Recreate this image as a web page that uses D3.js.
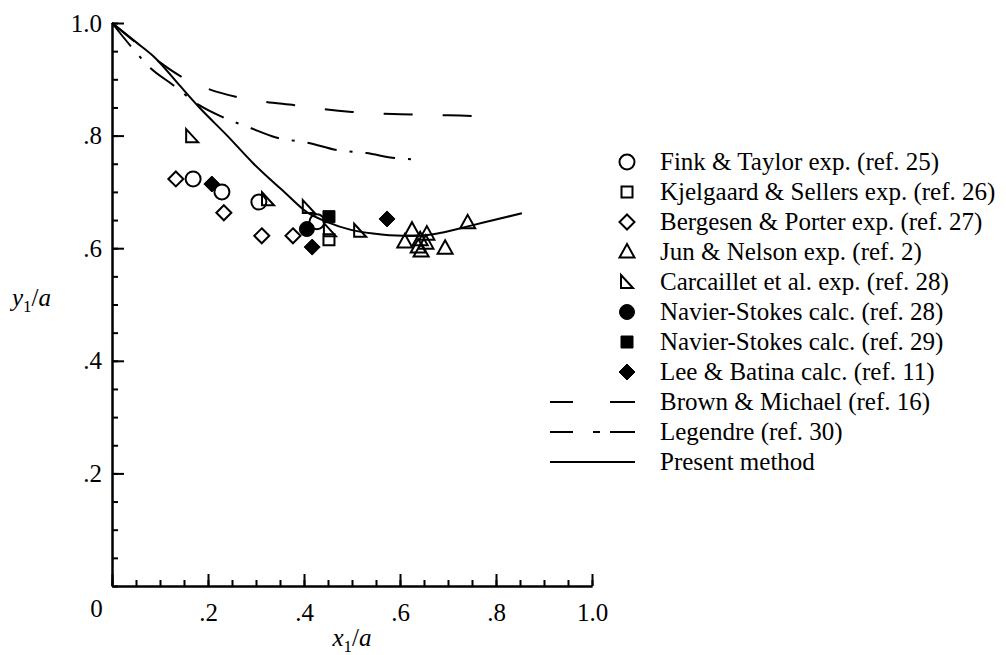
<!DOCTYPE html>
<html>
<head>
<meta charset="utf-8">
<script src="https://cdn.jsdelivr.net/npm/d3@7"></script>
<style>
  body { margin: 0; background: #fff; }
</style>
</head>
<body>
<svg id="chart" width="1006" height="655"></svg>
<script>
// ---- data ----
const finkTaylor   = [[0.169,0.723],[0.229,0.700],[0.306,0.682],[0.427,0.647]];
const kjelgaard    = [[0.452,0.615]];
const bergesen     = [[0.133,0.723],[0.233,0.663],[0.312,0.622],[0.377,0.622]];
const junNelson    = [[0.610,0.611],[0.625,0.632],[0.638,0.602],[0.642,0.615],[0.644,0.595],
                      [0.654,0.609],[0.656,0.625],[0.694,0.600],[0.741,0.645]];
const carcaillet   = [[0.167,0.799],[0.325,0.687],[0.410,0.673],[0.454,0.632],[0.517,0.631]];
const nsRef28      = [[0.406,0.634]];
const nsRef29      = [[0.452,0.656]];
const leeBatina    = [[0.208,0.714],[0.417,0.602],[0.573,0.652]];

const brownMichael = [[0,1.0],[0.05,0.965],[0.1,0.93],[0.15,0.902],[0.2,0.883],[0.258,0.869],
                      [0.32,0.860],[0.38,0.854],[0.44,0.847],[0.5,0.842],[0.6,0.838],[0.7,0.836],[0.75,0.835]];
const legendre     = [[0,1.0],[0.04,0.958],[0.08,0.92],[0.127,0.89],[0.18,0.855],[0.23,0.833],
                      [0.29,0.813],[0.34,0.797],[0.41,0.787],[0.47,0.774],[0.53,0.769],[0.59,0.760],[0.625,0.758]];
const presentMethod = [[0,1.0],[0.05,0.966],[0.09,0.938],[0.14,0.89],[0.183,0.849],[0.24,0.80],
                      [0.294,0.751],[0.33,0.722],[0.36,0.699],[0.406,0.664],[0.45,0.646],[0.496,0.633],
                      [0.544,0.626],[0.606,0.622],[0.65,0.623],[0.683,0.627],[0.752,0.641],[0.80,0.651],[0.854,0.662]];

const majorTicks = [0, 0.2, 0.4, 0.6, 0.8, 1.0];
const minorTicks = d3.range(0, 1.0001, 0.05);

const legendLabels = [
  "Fink & Taylor exp. (ref. 25)",
  "Kjelgaard & Sellers exp. (ref. 26)",
  "Bergesen & Porter exp. (ref. 27)",
  "Jun & Nelson exp. (ref. 2)",
  "Carcaillet et al. exp. (ref. 28)",
  "Navier-Stokes calc. (ref. 28)",
  "Navier-Stokes calc. (ref. 29)",
  "Lee & Batina calc. (ref. 11)",
  "Brown & Michael (ref. 16)",
  "Legendre (ref. 30)",
  "Present method"
];

const SERIF = '"Liberation Serif", "DejaVu Serif", "Times New Roman", Times, serif';
const FS = 25;

// ---- layout ----
const svg = d3.select('#chart').attr('font-family', SERIF);
const x = d3.scaleLinear().domain([0, 1]).range([112, 592]);
const y = d3.scaleLinear().domain([0, 1]).range([586, 23]);

const fmt = v => v === 1 ? "1.0" : v === 0 ? "0" : d3.format(".1f")(v).replace(/^0/, "");

// minor ticks
svg.append('g').attr('transform', 'translate(0,586)')
  .call(d3.axisBottom(x).tickValues(minorTicks).tickSize(-6).tickSizeOuter(0).tickFormat(''))
  .call(g => g.selectAll('line,path').attr('stroke-width', 2));
svg.append('g').attr('transform', 'translate(112,0)')
  .call(d3.axisLeft(y).tickValues(minorTicks).tickSize(-6).tickSizeOuter(0).tickFormat(''))
  .call(g => g.selectAll('line,path').attr('stroke-width', 2));

// major ticks + labels
const xAxis = svg.append('g').attr('transform', 'translate(0,586)')
  .call(d3.axisBottom(x).tickValues(majorTicks).tickSize(-12).tickSizeOuter(0).tickPadding(17).tickFormat(fmt));
const yAxis = svg.append('g').attr('transform', 'translate(112,0)')
  .call(d3.axisLeft(y).tickValues(majorTicks.slice(1)).tickSize(-12).tickSizeOuter(0).tickPadding(10).tickFormat(fmt));

[xAxis, yAxis].forEach(g => {
  g.attr('font-family', SERIF).attr('font-size', FS);
  g.selectAll('line,path').attr('stroke-width', 2);
  g.selectAll('text').attr('fill', '#000');
});
// the lone "0" sits down-left of the origin
xAxis.selectAll('.tick').filter(d => d === 0).select('text').attr('x', -16).attr('y', 13);

// axis titles
function axisTitle(letter, xPos, yPos, anchor) {
  const t = svg.append('text').attr('x', xPos).attr('y', yPos)
    .attr('text-anchor', anchor).attr('font-size', FS).attr('font-family', SERIF);
  t.append('tspan').attr('font-style', 'italic').text(letter);
  t.append('tspan').attr('dy', 6).attr('font-size', 17).text('1');
  t.append('tspan').attr('dy', -6).text('/');
  t.append('tspan').attr('font-style', 'italic').text('a');
}
axisTitle('y', 12, 306, 'start');
axisTitle('x', 352, 646, 'middle');

// ---- curves ----
const line = d3.line().x(d => x(d[0])).y(d => y(d[1])).curve(d3.curveMonotoneX);
const curves = [
  { data: brownMichael, dash: '29,30' },
  { data: legendre, dash: '30,13,3,13' },
  { data: presentMethod, dash: null }
];
curves.forEach(c => {
  svg.append('path').attr('d', line(c.data))
    .attr('fill', 'none').attr('stroke', '#000').attr('stroke-width', 2)
    .attr('stroke-dasharray', c.dash);
});

// ---- marker shapes ----
const shapes = {
  circle:   'M7.5,0A7.5,7.5 0 1,1 -7.5,0A7.5,7.5 0 1,1 7.5,0Z',
  square:   'M-5.5,-5.5H5.5V5.5H-5.5Z',
  diamond:  'M0,-7.5L7.5,0L0,7.5L-7.5,0Z',
  triangle: 'M0,-8L7.5,5.5L-7.5,5.5Z',
  rightTri: 'M-6,-7L6,6H-6Z',
  dot:      'M7.5,0A7.5,7.5 0 1,1 -7.5,0A7.5,7.5 0 1,1 7.5,0Z',
  block:    'M-6,-6H6V6H-6Z',
  solidDia: 'M0,-8L8,0L0,8L-8,0Z'
};
const series = [
  { data: finkTaylor, shape: 'circle',   filled: false },
  { data: kjelgaard,  shape: 'square',   filled: false },
  { data: bergesen,   shape: 'diamond',  filled: false },
  { data: junNelson,  shape: 'triangle', filled: false },
  { data: carcaillet, shape: 'rightTri', filled: false },
  { data: nsRef28,    shape: 'dot',      filled: true },
  { data: nsRef29,    shape: 'block',    filled: true },
  { data: leeBatina,  shape: 'solidDia', filled: true }
];

function drawMarker(sel, s) {
  sel.attr('d', shapes[s.shape])
    .attr('fill', s.filled ? '#000' : 'none')
    .attr('stroke', '#000')
    .attr('stroke-width', s.filled ? 1 : 2)
    .attr('stroke-linejoin', 'miter');
}

series.forEach(s => {
  svg.append('g').selectAll('path').data(s.data).join('path')
    .attr('transform', d => `translate(${x(d[0])},${y(d[1])})`)
    .call(drawMarker, s);
});

// ---- legend ----
const legY = i => 162 + 30 * i;
const leg = svg.append('g').attr('font-family', SERIF).attr('font-size', FS);
legendLabels.forEach((lab, i) => {
  leg.append('text').attr('x', 660).attr('y', legY(i) + 8).text(lab);
});
series.forEach((s, i) => {
  leg.append('path').attr('transform', `translate(627,${legY(i)})`).call(drawMarker, s);
});
const legendDash = ['23,37,25', '23,20,7,10,25', null];
legendDash.forEach((dash, j) => {
  leg.append('line')
    .attr('x1', 550).attr('x2', 635)
    .attr('y1', legY(8 + j)).attr('y2', legY(8 + j))
    .attr('stroke', '#000').attr('stroke-width', 2)
    .attr('stroke-dasharray', dash);
});
</script>
</body>
</html>
